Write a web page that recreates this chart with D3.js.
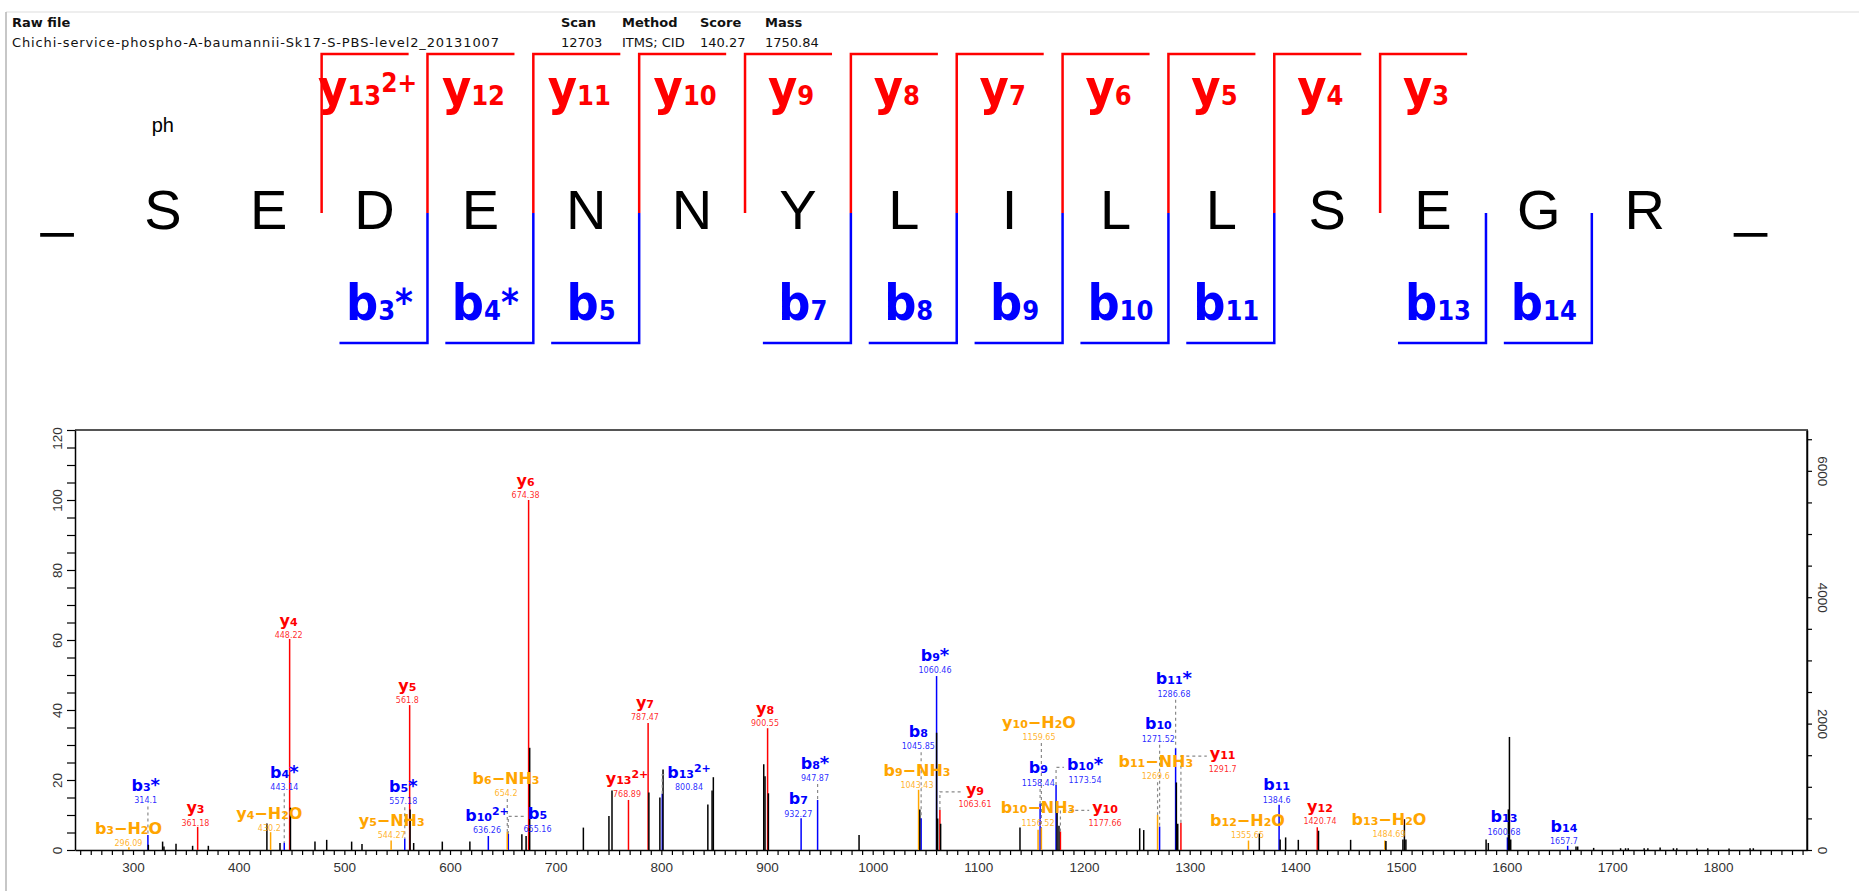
<!DOCTYPE html>
<html>
<head>
<meta charset="utf-8">
<script src="https://cdn.jsdelivr.net/npm/d3@7"></script>
<style>
  body { margin: 0; background: #fff; }
  svg { display: block; }
</style>
</head>
<body>
<div id="chart"></div>
<script>
// ---------------- data ----------------
const rawFile = "Chichi-service-phospho-A-baumannii-Sk17-S-PBS-level2_20131007";
const headerKeys = ["Scan", "Method", "Score", "Mass"];
const headerValues = ["12703", "ITMS; CID", "140.27", "1750.84"];

const residues = ["S", "E", "D", "E", "N", "N", "Y", "L", "I", "L", "L", "S", "E", "G", "R"];
const modLabel = "ph"; // on residue 1
const yBrackets = ["y_13^2+", "y_12", "y_11", "y_10", "y_9", "y_8", "y_7", "y_6", "y_5", "y_4", "y_3"];
const bBrackets = ["b_3^*", "b_4^*", "b_5", "b_7", "b_8", "b_9", "b_10", "b_11", "b_13", "b_14"];

// y ions (red)
const yIonMz = [361.18, 448.22, 561.8, 674.38, 768.89, 787.47, 900.55, 1063.61, 1177.66, 1291.7, 1420.74];
const yIonPct = [6.6, 60.3, 41.4, 100, 14.3, 36.3, 34.8, 11.4, 5.3, 7.8, 6.5];
// b ions (blue)
const bIonMz = [314.1, 443.14, 557.18, 636.26, 655.16, 800.84, 932.27, 947.87, 1045.85, 1060.46, 1158.44, 1173.54, 1271.52, 1286.68, 1384.6, 1600.68, 1657.7];
const bIonPct = [4.3, 2.1, 3.3, 4.0, 4.6, 16.1, 9.1, 14.3, 9.1, 49.7, 13.3, 18.6, 6.7, 29.1, 12.9, 3.6, 1.2];
// neutral losses (orange)
const lossMz = [296.09, 430.2, 544.27, 654.2, 1043.43, 1156.52, 1159.65, 1269.6, 1355.65, 1484.69];
const lossPct = [0.8, 5.1, 2.7, 5.2, 17.2, 5.8, 6.3, 10.0, 2.7, 2.7];
// unassigned (black)
const otherMz = [314.5, 328.0, 329.3, 340.7, 356.4, 371.3, 426.7, 439.1, 449.0, 472.2, 483.3, 506.9, 516.7,
  562.2, 565.6, 592.7, 618.8, 668.0, 672.0, 675.4, 726.2, 750.4, 753.3, 788.2, 798.6, 801.6, 844.0, 848.0,
  849.2, 896.9, 898.1, 901.3, 987.1, 1044.6, 1060.5, 1061.5, 1064.3, 1139.4, 1174.5, 1176.3, 1252.7, 1256.5,
  1287.4, 1288.7, 1365.9, 1385.6, 1390.8, 1402.8, 1421.9, 1452.3, 1485.7, 1501.8, 1503.2, 1504.6, 1580.5,
  1582.6, 1601.6, 1602.6, 1603.8, 1665.6, 1667.2, 1682.3, 1707.8, 1712.5, 1715.0, 1730.1, 1733.6, 1745.2,
  1757.8, 1761.0, 1779.9, 1790.3, 1810.4, 1830.3, 1833.4];
const otherPct = [1.5, 2.4, 1.0, 1.8, 1.2, 1.2, 7.6, 2.0, 12.1, 2.4, 2.9, 2.4, 1.7,
  11.6, 2.0, 2.4, 2.4, 4.5, 4.0, 29.2, 6.4, 9.7, 17.0, 16.4, 15.0, 23.0, 13.0, 17.0,
  20.8, 24.5, 21.1, 16.2, 4.3, 11.6, 33.5, 9.0, 7.5, 6.4, 14.0, 6.9, 6.2, 5.7,
  19.3, 7.5, 4.7, 3.0, 3.6, 2.9, 5.5, 2.9, 2.6, 3.0, 8.8, 3.0, 3.0,
  2.0, 11.6, 32.3, 3.0, 1.0, 1.0, 0.6, 0.5, 0.5, 0.5, 0.5, 0.5, 0.7,
  0.5, 0.5, 0.4, 0.5, 0.4, 0.5, 0.5];

// peak annotations: ion, peak m/z, where the label sits (m/z, %)
const labelName = ["b_3-H_2O", "b_3^*", "y_3", "y_4-H_2O", "y_4", "b_4^*", "y_5-NH_3", "b_5^*", "y_5", "b_10^2+",
  "b_6-NH_3", "b_5", "y_6", "y_13^2+", "y_7", "b_13^2+", "y_8", "b_7", "b_8^*", "b_8", "b_9-NH_3", "b_9^*", "y_9",
  "y_10-H_2O", "b_9", "b_10^*", "b_10-NH_3", "y_10", "b_10", "b_11-NH_3", "b_11^*", "y_11", "b_11", "b_12-H_2O",
  "y_12", "b_13-H_2O", "b_13", "b_14"];
const labelMz = [296.09, 314.1, 361.18, 430.2, 448.22, 443.14, 544.27, 557.18, 561.8, 636.26,
  654.2, 655.16, 674.38, 768.89, 787.47, 800.84, 900.55, 932.27, 947.87, 1045.85, 1043.43, 1060.46, 1063.61,
  1159.65, 1158.44, 1173.54, 1156.52, 1177.66, 1271.52, 1269.6, 1286.68, 1291.7, 1384.6, 1355.65,
  1420.74, 1484.69, 1600.68, 1657.7];
const labelAtMz = [295.7, 312.0, 359.1, 429.0, 447.3, 443.2, 544.8, 555.8, 559.6, 635.0,
  653.0, 682.8, 671.5, 767.5, 784.5, 826.2, 898.1, 929.6, 945.4, 1043.2, 1041.9, 1059.0, 1096.8,
  1157.4, 1156.7, 1200.9, 1156.4, 1219.9, 1270.3, 1267.9, 1285.1, 1331.2, 1382.3, 1354.7,
  1423.3, 1488.6, 1597.4, 1654.2];
const labelAtPct = [1.1, 13.3, 6.9, 5.4, 60.5, 17.1, 3.3, 13.1, 41.9, 4.8,
  15.4, 5.2, 100.5, 15.2, 37.1, 17.1, 35.4, 9.5, 19.7, 28.8, 17.6, 50.5, 12.2,
  31.4, 18.3, 19.2, 6.9, 6.9, 30.9, 20.2, 43.8, 22.4, 13.5, 3.3,
  7.4, 3.6, 4.3, 1.7];

const leftTicks = [0, 20, 40, 60, 80, 100, 120];
const rightTicks = [0, 2000, 4000, 6000];
const mzTicks = [300, 400, 500, 600, 700, 800, 900, 1000, 1100, 1200, 1300, 1400, 1500, 1600, 1700, 1800];

// ---------------- setup ----------------
const W = 1859, H = 891;
const RED = "#ff0000", BLUE = "#0000ff", ORANGE = "#ffa500";

const svg = d3.select("#chart").append("svg").attr("width", W).attr("height", H);

// panel border
svg.append("line").attr("x1", 6).attr("x2", W).attr("y1", 12).attr("y2", 12)
  .attr("stroke", "#e8e8e8").attr("stroke-width", 1.5);
svg.append("line").attr("x1", 6).attr("x2", 6).attr("y1", 12).attr("y2", H)
  .attr("stroke", "#b4b4b4").attr("stroke-width", 1.5);

// header
const hdr = svg.append("g").attr("font-family", "DejaVu Sans, Verdana, sans-serif")
  .attr("font-size", 13).attr("fill", "#111");
hdr.append("text").attr("x", 12).attr("y", 27).attr("font-weight", "bold").text("Raw file");
hdr.append("text").attr("x", 12).attr("y", 47).attr("textLength", 487).text(rawFile);
const hdrX = [561, 622, 700, 765];
headerKeys.forEach((k, i) => {
  hdr.append("text").attr("x", hdrX[i]).attr("y", 27).attr("font-weight", "bold").text(k);
  hdr.append("text").attr("x", hdrX[i]).attr("y", 47).text(headerValues[i]);
});

// ion label text builder: "b_3-H_2O", "y_13^2+", "b_4^*"
function parseIon(s) {
  const parts = [];
  let i = 0, buf = "";
  while (i < s.length) {
    const c = s[i];
    if (c === "_") {
      if (buf) { parts.push({ t: buf, k: "n" }); buf = ""; }
      let j = i + 1, d = "";
      while (j < s.length && /[0-9]/.test(s[j])) d += s[j++];
      parts.push({ t: d, k: "sub" });
      i = j;
    } else if (c === "^") {
      if (buf) { parts.push({ t: buf, k: "n" }); buf = ""; }
      const rest = s.slice(i + 1);
      parts.push({ t: rest, k: rest === "*" ? "star" : "sup" });
      i = s.length;
    } else {
      buf += c === "-" ? "\u2212" : c;
      i++;
    }
  }
  if (buf) parts.push({ t: buf, k: "n" });
  return parts;
}

function ionText(text, s, sz) {
  parseIon(s).forEach(p => {
    const ts = text.append("tspan").text(p.t);
    if (p.k === "n") ts.attr("font-size", sz.main);
    else if (p.k === "sub") ts.attr("font-size", sz.sub);
    else if (p.k === "sup") ts.attr("font-size", sz.sup).attr("dy", -sz.raise);
    else ts.attr("font-size", sz.star).attr("dy", -sz.starRaise);
  });
}

// ---------------- sequence panel ----------------
const seqX = d3.scaleLinear().domain([0, 16]).range([57, 57 + 16 * 105.85]);
const seqG = svg.append("g");
const letterBase = 229;

const seqLetters = ["_"].concat(residues, ["_"]);
seqG.selectAll("text.res")
  .data(seqLetters)
  .enter()
  .append("text")
  .attr("class", "res")
  .attr("x", (d, i) => seqX(i))
  .attr("y", letterBase)
  .attr("text-anchor", "middle")
  .attr("font-family", "Liberation Sans, Arial, sans-serif")
  .attr("font-size", 56)
  .attr("font-weight", (d) => (d === "_" ? "bold" : "normal"))
  .attr("stroke", (d) => (d === "_" ? "#000" : "none"))
  .attr("stroke-width", 1.6)
  .attr("fill", "#000")
  .text((d) => d);

seqG.append("text")
  .attr("x", seqX(1))
  .attr("y", 132)
  .attr("text-anchor", "middle")
  .attr("font-family", "Liberation Sans, Arial, sans-serif")
  .attr("font-size", 20)
  .text(modLabel);

const topSizes = { main: 50, sub: 27, sup: 26, raise: 13, star: 38, starRaise: 5 };
const ionNum = (s) => +s.match(/_(\d+)/)[1];
const topFont = "DejaVu Sans Condensed, DejaVu Sans, sans-serif";

// y brackets
yBrackets.forEach((s) => {
  const k = residues.length - ionNum(s);
  const bx = seqX(k + 0.5);
  seqG.append("path")
    .attr("d", "M" + bx + ",213V54H" + (bx + 87))
    .attr("fill", "none").attr("stroke", RED).attr("stroke-width", 2.5);
  const t = seqG.append("text")
    .attr("x", bx + 46).attr("y", 105)
    .attr("text-anchor", "middle")
    .attr("font-family", topFont)
    .attr("font-stretch", "condensed")
    .attr("font-weight", "bold")
    .attr("fill", RED);
  ionText(t, s, topSizes);
});

// b brackets
bBrackets.forEach((s) => {
  const bx = seqX(ionNum(s) + 0.5);
  seqG.append("path")
    .attr("d", "M" + bx + ",213V343H" + (bx - 88))
    .attr("fill", "none").attr("stroke", BLUE).attr("stroke-width", 2.5);
  const t = seqG.append("text")
    .attr("x", bx - 48).attr("y", 320)
    .attr("text-anchor", "middle")
    .attr("font-family", topFont)
    .attr("font-stretch", "condensed")
    .attr("font-weight", "bold")
    .attr("fill", BLUE);
  ionText(t, s, topSizes);
});

// ---------------- spectrum ----------------
const plot = { left: 75, right: 1807, top: 430, bottom: 850 };
const x = d3.scaleLinear().domain([245.1, 1884.2]).range([plot.left, plot.right]);
const y = d3.scaleLinear().domain([0, 120]).range([plot.bottom, plot.top]);
const yR = d3.scaleLinear().domain([0, 6646]).range([plot.bottom, plot.top]);

// frame (top and right)
svg.append("path")
  .attr("d", "M" + plot.left + "," + plot.top + "H" + plot.right + "V" + plot.bottom)
  .attr("fill", "none").attr("stroke", "#555").attr("stroke-width", 2);

const axisFont = "Liberation Sans, Arial, sans-serif";

// bottom axis
const gx = svg.append("g")
  .attr("transform", "translate(0," + plot.bottom + ")")
  .call(d3.axisBottom(x)
    .tickValues(d3.range(250, 1881, 10))
    .tickSize(5)
    .tickSizeOuter(0)
    .tickFormat((d) => (mzTicks.includes(d) ? d : "")));
gx.selectAll("text").attr("font-family", axisFont).attr("font-size", 13.5).attr("fill", "#333").attr("dy", "1.05em");

// left axis
const gy = svg.append("g")
  .attr("transform", "translate(" + plot.left + ",0)")
  .call(d3.axisLeft(y)
    .tickValues(d3.range(0, 121, 5))
    .tickSize(8)
    .tickSizeOuter(0)
    .tickFormat((d) => (leftTicks.includes(d) ? d : "")));
gy.selectAll(".tick text")
  .attr("transform", "rotate(-90)")
  .attr("x", (d) => (d === 120 ? -8 : 0))
  .attr("y", -13)
  .attr("dy", 0)
  .attr("text-anchor", "middle")
  .attr("font-family", axisFont).attr("font-size", 13.5).attr("fill", "#333");

// right axis (intensity)
const gr = svg.append("g")
  .attr("transform", "translate(" + plot.right + ",0)")
  .call(d3.axisRight(yR)
    .tickValues(d3.range(0, 6501, 500))
    .tickSize(5)
    .tickSizeOuter(0)
    .tickFormat((d) => (rightTicks.includes(d) ? d : "")));
gr.selectAll(".tick text")
  .attr("transform", "rotate(90)")
  .attr("x", 0)
  .attr("y", -11)
  .attr("dy", 0)
  .attr("text-anchor", "middle")
  .attr("font-family", axisFont).attr("font-size", 13.5).attr("fill", "#333");

[gx, gy, gr].forEach((g) => {
  g.select(".domain").attr("stroke", "#000").attr("stroke-width", 1.5);
  g.selectAll(".tick line").attr("stroke", "#000").attr("stroke-width", 1.2);
});

// peaks: colored first, unassigned drawn over them
const peaks = [];
yIonMz.forEach((m, i) => peaks.push({ mz: m, pct: yIonPct[i], c: RED }));
bIonMz.forEach((m, i) => peaks.push({ mz: m, pct: bIonPct[i], c: BLUE }));
lossMz.forEach((m, i) => peaks.push({ mz: m, pct: lossPct[i], c: ORANGE }));
otherMz.forEach((m, i) => peaks.push({ mz: m, pct: otherPct[i], c: "#000" }));

svg.append("g")
  .selectAll("line")
  .data(peaks)
  .enter()
  .append("line")
  .attr("x1", (d) => x(d.mz))
  .attr("x2", (d) => x(d.mz))
  .attr("y1", y(0))
  .attr("y2", (d) => y(d.pct))
  .attr("stroke", (d) => d.c)
  .attr("stroke-width", 1.5);

// annotations
function ionColor(s) {
  if (s.indexOf("-") >= 0) return ORANGE;
  return s[0] === "y" ? RED : BLUE;
}
function peakPct(mz) {
  const p = peaks.find((d) => d.c !== "#000" && d.mz === mz);
  return p ? p.pct : 0;
}

const connG = svg.append("g")
  .attr("fill", "none").attr("stroke", "#8a8a8a").attr("stroke-width", 1.2).attr("stroke-dasharray", "3,3");
const labG = svg.append("g").attr("font-family", "DejaVu Sans, Verdana, sans-serif");
const specSizes = { main: 16, sub: 11, sup: 11, raise: 6, star: 18, starRaise: 0 };

labelName.forEach((s, i) => {
  const col = ionColor(s);
  const ax = x(labelAtMz[i]);
  const mzBase = y(labelAtPct[i]);
  const nameBase = mzBase - 12.5;
  const px = x(labelMz[i]);
  const py = y(peakPct(labelMz[i]));

  const t = labG.append("text")
    .attr("x", ax).attr("y", nameBase)
    .attr("text-anchor", "middle")
    .attr("font-weight", "bold")
    .attr("fill", col);
  ionText(t, s, specSizes);
  labG.append("text")
    .attr("x", ax).attr("y", mzBase)
    .attr("text-anchor", "middle")
    .attr("font-size", 8)
    .attr("fill", col)
    .attr("fill-opacity", 0.85)
    .text(String(labelMz[i]));

  const len = t.node().getComputedTextLength();
  if (Math.abs(ax - px) > 10) {
    const hy = nameBase - 3;
    const edge = ax > px ? ax - len / 2 - 3 : ax + len / 2 + 3;
    connG.append("path").attr("d", "M" + px + "," + py + "V" + hy + "H" + edge);
  } else if (py - mzBase > 6) {
    connG.append("line")
      .attr("x1", px).attr("x2", px)
      .attr("y1", mzBase + 3).attr("y2", py);
  }
});
</script>
</body>
</html>
